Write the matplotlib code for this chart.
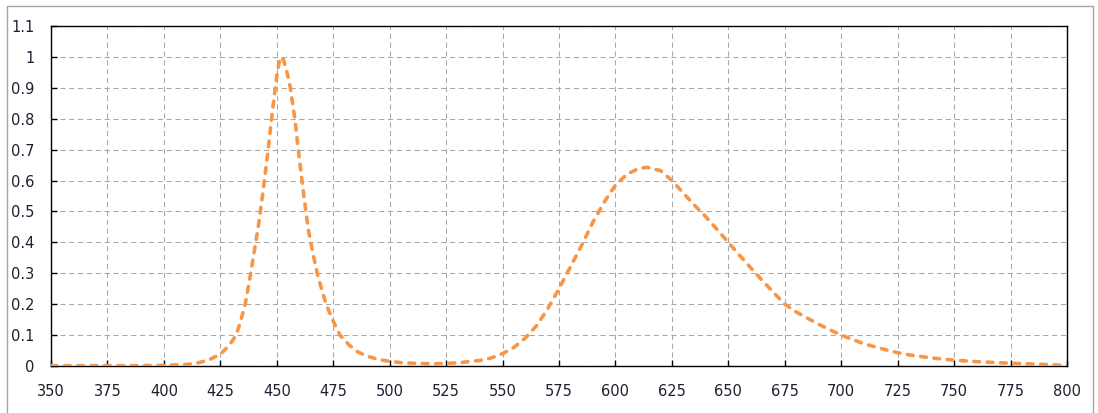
import matplotlib
matplotlib.use("Agg")
import matplotlib.pyplot as plt
from matplotlib.patches import Rectangle

# Wavelength (nm) and relative intensity
wavelength = [350, 360, 370, 380, 390, 400, 410, 415, 420, 425, 428, 430, 432, 434, 436,
              438, 440, 442, 444, 446, 448, 450, 451, 452, 453, 454, 455, 456, 457,
              458, 460, 462, 464, 466, 468, 470, 472, 475, 478, 482, 486, 490, 495, 500,
              505, 510, 520, 530, 540, 545, 550, 555, 560, 565, 570, 575, 580, 585,
              590, 595, 600, 605, 610, 614, 620, 625, 630, 635, 640, 645, 650, 655,
              660, 665, 670, 675, 680, 685, 690, 695, 700, 710, 720, 725, 730, 740,
              750, 760, 775, 790, 800]
intensity = [0.001, 0.001, 0.001, 0.001, 0.001, 0.002, 0.005, 0.01, 0.02, 0.038, 0.06, 0.078, 0.1, 0.145, 0.2,
             0.28, 0.37, 0.46, 0.57, 0.69, 0.82, 0.94, 0.98, 1.0, 0.99, 0.965, 0.935, 0.9, 0.85,
             0.8, 0.67, 0.55, 0.44, 0.365, 0.297, 0.245, 0.197, 0.145, 0.1, 0.068, 0.045, 0.032, 0.021, 0.015,
             0.011, 0.009, 0.007, 0.01, 0.018, 0.026, 0.04, 0.06, 0.09, 0.13, 0.185, 0.25, 0.32, 0.39,
             0.465, 0.53, 0.585, 0.62, 0.638, 0.643, 0.632, 0.60, 0.56, 0.52, 0.483, 0.442, 0.4, 0.358,
             0.317, 0.277, 0.238, 0.2, 0.175, 0.155, 0.135, 0.117, 0.1, 0.072, 0.052, 0.043, 0.036, 0.026,
             0.019, 0.014, 0.009, 0.005, 0.002]

x_ticks = list(range(350, 801, 25))
y_ticks = [0, 0.1, 0.2, 0.3, 0.4, 0.5, 0.6, 0.7, 0.8, 0.9, 1.0, 1.1]
y_tick_labels = ["0", "0.1", "0.2", "0.3", "0.4", "0.5", "0.6", "0.7", "0.8", "0.9", "1", "1.1"]

fig = plt.figure(figsize=(10.98, 4.13), dpi=100)
fig.patches.append(Rectangle((7 / 1098, -0.1), 1086 / 1098, 1.1 - 6 / 413,
                             transform=fig.transFigure, fill=False,
                             edgecolor="#A6A6A6", linewidth=1.0))

ax = fig.add_axes([51 / 1098, 1 - 366 / 413, 1016 / 1098, 340 / 413])
ax.plot(wavelength, intensity, color="#F79646", linewidth=2.6,
        linestyle=(0, (1.6, 2.1)), dash_capstyle="round", zorder=3)

ax.set_xlim(350, 800)
ax.set_ylim(0, 1.1)
ax.set_xticks(x_ticks)
ax.set_yticks(y_ticks)
ax.set_yticklabels(y_tick_labels)
ax.grid(True, color="#A8A8A8", linestyle=(0, (5, 3.5)), linewidth=0.75)
ax.set_axisbelow(True)
for s in ax.spines.values():
    s.set_color("#000000")
    s.set_linewidth(1.0)
ax.tick_params(direction="in", length=4, width=1, colors="#000000",
               labelcolor="#1F1F2F", labelsize=10.5, pad=13)
ax.tick_params(axis="y", pad=12)

fig.savefig("out.png", dpi=100)
